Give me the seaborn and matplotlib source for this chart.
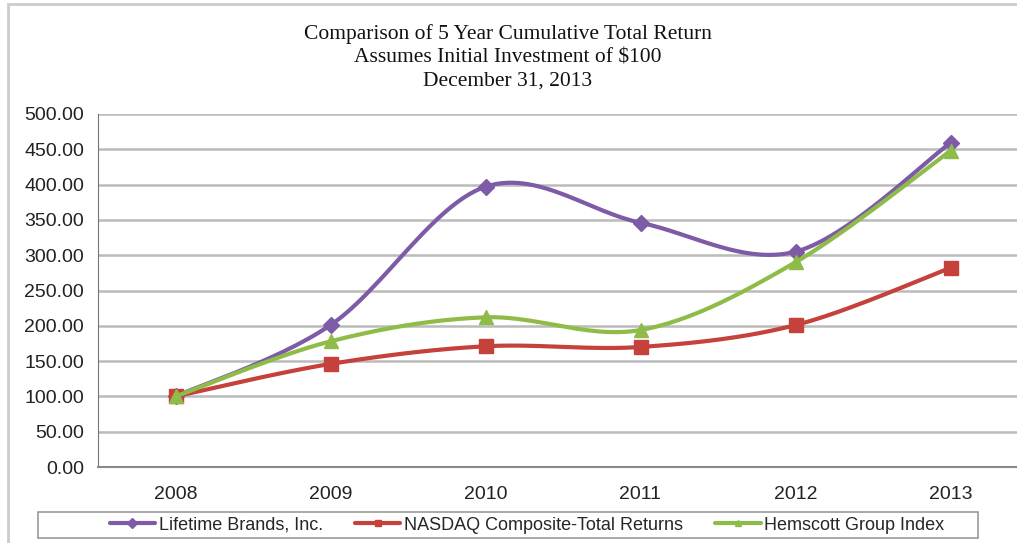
import numpy as np
import pandas as pd
import matplotlib
matplotlib.use("Agg")
import matplotlib.pyplot as plt
import seaborn as sns
from matplotlib.patches import Rectangle

# ====================
# Datos
# ====================
years = [2008, 2009, 2010, 2011, 2012, 2013]
lifetime = [100.00, 201.00, 397.00, 346.00, 305.00, 459.00]
nasdaq = [100.00, 146.00, 171.00, 170.00, 201.00, 282.00]
hemscott = [100.00, 178.00, 212.00, 194.00, 290.00, 448.00]

series_names = ["Lifetime Brands, Inc.", "NASDAQ Composite-Total Returns", "Hemscott Group Index"]
series_vals = [lifetime, nasdaq, hemscott]
colors = ["#7D5BA6", "#C4413C", "#8FBC48"]
markers = ["D", "s", "^"]
msizes = [8, 10, 10]


def smooth(x, y, n=30):
    # suavizado tipo Excel (Bezier cubico con tangentes Catmull-Rom)
    x = np.asarray(x, float)
    y = np.asarray(y, float)
    xs, ys = [], []
    for i in range(len(x) - 1):
        p0 = np.array([x[max(i - 1, 0)], y[max(i - 1, 0)]])
        p1 = np.array([x[i], y[i]])
        p2 = np.array([x[i + 1], y[i + 1]])
        p3 = np.array([x[min(i + 2, len(x) - 1)], y[min(i + 2, len(x) - 1)]])
        c1 = p1 + (p2 - p0) / 6
        c2 = p2 - (p3 - p1) / 6
        t = np.linspace(0, 1, n)[:, None]
        pts = (1 - t) ** 3 * p1 + 3 * (1 - t) ** 2 * t * c1 + 3 * (1 - t) * t ** 2 * c2 + t ** 3 * p2
        xs.extend(pts[:, 0])
        ys.extend(pts[:, 1])
    return np.array(xs), np.array(ys)


sns.set_style("white")
plt.rcParams["font.family"] = ["Liberation Sans", "DejaVu Sans"]

fig = plt.figure(figsize=(10.17, 5.43), dpi=100)
ax = fig.add_axes([98 / 1017, 1 - 467 / 543, 930 / 1017, 353 / 543])

xpos = np.arange(len(years))
for name, vals, c, m, ms in zip(series_names, series_vals, colors, markers, msizes):
    sx, sy = smooth(xpos, vals)
    sns.lineplot(x=sx, y=sy, ax=ax, color=c, lw=3, sort=False, estimator=None, label=None)
    ax.plot(xpos, vals, linestyle="none", marker=m, ms=ms, color=c, mec=c)
    # entrada de leyenda
    ax.plot([], [], color=c, lw=3, marker=m, ms=5, label=name)

ax.set_xlim(-0.5, 5.5)
ax.set_ylim(0, 500)
ax.set_yticks(np.arange(0, 501, 50))
ax.set_yticklabels([f"{v:.2f}" for v in np.arange(0, 501, 50)], fontsize=14, color="#222222")
ax.set_xticks(xpos)
ax.set_xticklabels([str(y) for y in years], fontsize=14, color="#222222")
ax.tick_params(axis="y", direction="out", length=7, width=1, color="#777777", pad=3)
ax.tick_params(axis="x", direction="in", length=5, width=1, color="#999999", pad=14)
ax.grid(axis="y", color="#BBBBBB", lw=1.8)
ax.set_axisbelow(True)
for s in ["top", "right"]:
    ax.spines[s].set_visible(False)
ax.spines["left"].set_color("#777777")
ax.spines["bottom"].set_color("#888888")
ax.spines["bottom"].set_linewidth(1.5)

# leyenda sin marco + caja aparte
leg = ax.legend(loc="center", bbox_to_anchor=(527 / 1017, 1 - 525 / 543),
                bbox_transform=fig.transFigure,
                ncol=3, frameon=False, fontsize=13, handlelength=2.5,
                handletextpad=0.2, columnspacing=1.8, borderpad=0.2, borderaxespad=0)
fig.patches.append(Rectangle((38 / 1017, 1 - 538 / 543), 940 / 1017, 26 / 543, transform=fig.transFigure,
                             fill=False, edgecolor="#999999", lw=1.2))

title_lines = ["Comparison of 5 Year Cumulative Total Return",
               "Assumes Initial Investment of $100",
               "December 31, 2013"]
for i, line in enumerate(title_lines):
    fig.text(508 / 1017, 1 - (34 + 23.5 * i) / 543, line, ha="center", va="center",
             fontsize=15.5, family="Liberation Serif", color="#111111")

# marco exterior
fig.patches.append(Rectangle((8 / 1017, -0.02), 1.1, 1 - 4 / 543 + 0.02, transform=fig.transFigure,
                             fill=False, edgecolor="#CCCCCC", lw=2))

fig.savefig("out.png", dpi=100)
